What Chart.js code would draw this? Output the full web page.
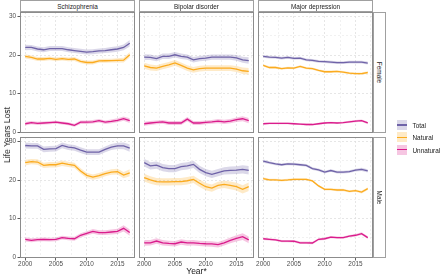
<!DOCTYPE html>
<html><head><meta charset="utf-8">
<script src="https://cdn.jsdelivr.net/npm/chart.js@4"></script>
<style>
body{margin:0;width:440px;height:275px;background:#fff;position:relative;overflow:hidden;font-family:"Liberation Sans",Arial,sans-serif;}
canvas{position:absolute;}
.strip{position:absolute;box-sizing:border-box;border:1px solid #a0a0a0;background:#fff;color:#1a1a1a;font-size:6.4px;display:flex;align-items:center;justify-content:center;white-space:nowrap;}
.rs span{transform:rotate(90deg);display:inline-block;}
.title{position:absolute;color:#1a1a1a;font-size:8.5px;white-space:nowrap;}
.key{position:absolute;width:10px;height:10px;}
.key i{position:absolute;left:0;right:0;top:4.3px;height:1.4px;}
.lab{position:absolute;font-size:6.4px;color:#1a1a1a;white-space:nowrap;}
</style></head><body>
<script>
// ---- data ----
const years = [2000,2001,2002,2003,2004,2005,2006,2007,2008,2009,2010,2011,2012,2013,2014,2015,2016,2017];
const xMajorTicks = [2000,2005,2010,2015];
const xMinorTicks = [2002.5,2007.5,2012.5,2017.5];
const yMajorTicks = [0,10,20,30];
const yMinorTicks = [5,15,25];
const disorders = ['Schizophrenia','Bipolar disorder','Major depression'];
const sexes = ['Female','Male'];
const causes = ['Total','Natural','Unnatural'];

// Schizophrenia, Female
const szFemTotal     = [22.0,22.0,21.6,21.4,21.7,21.7,21.7,21.4,21.2,21.0,20.8,20.9,21.1,21.2,21.4,21.6,22.0,23.1];
const szFemNatural   = [19.7,19.4,19.0,19.0,19.15,18.9,19.1,18.9,19.0,18.4,18.1,18.1,18.5,18.55,18.6,18.65,18.7,20.1];
const szFemUnnatural = [2.2,2.5,2.3,2.4,2.5,2.6,2.4,2.2,1.8,2.6,2.6,2.7,3.0,2.6,2.8,3.1,3.5,3.0];
const szFemTotalCI     = [0.7,0.65,0.65,0.65,0.65,0.65,0.65,0.65,0.65,0.65,0.65,0.65,0.65,0.65,0.7,0.7,0.75,0.85];
const szFemNaturalCI   = [0.55,0.5,0.5,0.5,0.5,0.5,0.5,0.5,0.5,0.5,0.5,0.5,0.5,0.5,0.5,0.55,0.6,0.7];
const szFemUnnaturalCI = [0.45,0.4,0.4,0.4,0.4,0.4,0.4,0.4,0.4,0.45,0.45,0.45,0.45,0.45,0.5,0.5,0.55,0.6];
// Schizophrenia, Male
const szMalTotal     = [29.0,28.9,28.9,28.0,28.1,28.2,29.0,28.6,28.35,27.8,27.3,27.3,27.3,28.0,28.6,28.9,28.9,28.3];
const szMalNatural   = [24.55,24.8,24.7,23.85,24.0,24.0,24.4,24.1,23.85,22.4,21.25,20.8,21.15,21.7,22.1,22.2,21.3,21.9];
const szMalUnnatural = [4.65,4.4,4.55,4.65,4.55,4.65,5.1,4.9,4.8,5.7,6.2,6.7,6.4,6.4,6.55,6.7,7.5,6.4];
const szMalTotalCI     = [0.8,0.75,0.75,0.75,0.75,0.75,0.75,0.75,0.75,0.75,0.75,0.75,0.75,0.75,0.8,0.8,0.85,0.95];
const szMalNaturalCI   = [0.75,0.7,0.7,0.7,0.7,0.7,0.7,0.7,0.7,0.7,0.7,0.7,0.7,0.7,0.7,0.75,0.8,0.9];
const szMalUnnaturalCI = [0.55,0.5,0.5,0.5,0.5,0.5,0.5,0.5,0.5,0.55,0.55,0.6,0.6,0.6,0.65,0.7,0.8,0.8];
// Bipolar disorder, Female
const bpFemTotal     = [19.5,19.45,19.1,19.7,19.7,20.1,19.7,19.5,18.8,19.1,19.25,19.5,19.5,19.5,19.5,19.3,18.8,18.6];
const bpFemNatural   = [17.25,16.8,16.65,17.1,17.5,18.0,17.35,16.65,16.2,16.5,16.65,16.65,16.65,16.65,16.65,16.4,15.95,15.8];
const bpFemUnnatural = [2.2,2.4,2.55,2.7,2.4,2.4,2.4,3.4,2.4,2.4,2.55,2.7,2.9,2.7,2.9,3.25,3.5,3.0];
const bpFemTotalCI     = [0.75,0.7,0.7,0.7,0.7,0.7,0.7,0.7,0.7,0.7,0.7,0.7,0.7,0.7,0.7,0.75,0.8,0.85];
const bpFemNaturalCI   = [0.8,0.75,0.75,0.75,0.75,0.75,0.75,0.75,0.75,0.75,0.75,0.75,0.75,0.75,0.75,0.8,0.85,0.9];
const bpFemUnnaturalCI = [0.55,0.5,0.5,0.5,0.5,0.5,0.5,0.55,0.5,0.5,0.5,0.5,0.55,0.55,0.55,0.6,0.65,0.7];
// Bipolar disorder, Male
const bpMalTotal     = [24.55,23.7,23.9,23.25,23.0,23.0,23.5,23.7,24.1,22.8,21.95,21.5,21.95,22.4,22.55,22.6,22.8,22.55];
const bpMalNatural   = [20.65,20.05,19.6,19.55,19.55,19.6,19.6,19.85,20.2,19.2,18.3,17.95,18.65,18.9,18.65,18.3,17.6,18.3];
const bpMalUnnatural = [3.75,3.75,4.2,3.75,3.6,3.5,3.95,3.7,3.75,3.6,3.5,3.45,3.25,3.75,4.4,4.9,5.35,4.5];
const bpMalTotalCI     = [1.0,0.95,0.95,0.95,0.95,0.95,0.95,0.95,0.95,0.95,0.95,0.95,0.95,0.95,1.0,1.0,1.05,1.1];
const bpMalNaturalCI   = [1.0,0.95,0.95,0.95,0.95,0.95,0.95,0.95,0.95,0.95,0.95,0.95,0.95,0.95,1.0,1.0,1.05,1.1];
const bpMalUnnaturalCI = [0.75,0.7,0.7,0.7,0.7,0.7,0.7,0.7,0.7,0.7,0.7,0.7,0.7,0.7,0.75,0.8,0.85,0.9];
// Major depression, Female
const mdFemTotal     = [19.7,19.5,19.4,19.25,19.4,19.15,19.25,18.8,18.65,18.4,18.3,18.2,18.05,18.05,18.2,18.2,18.2,17.95];
const mdFemNatural   = [17.35,16.8,16.8,16.5,16.7,16.65,17.1,16.65,16.5,16.05,15.7,15.7,15.8,15.6,15.35,15.2,15.2,15.5];
const mdFemUnnatural = [2.2,2.3,2.3,2.3,2.3,2.2,2.1,2.0,2.0,2.2,2.4,2.5,2.4,2.5,2.7,2.9,3.0,2.4];
const mdFemTotalCI     = [0.35,0.35,0.35,0.35,0.35,0.35,0.35,0.35,0.35,0.35,0.35,0.35,0.35,0.35,0.35,0.35,0.35,0.4];
const mdFemNaturalCI   = [0.3,0.3,0.3,0.3,0.3,0.3,0.3,0.3,0.3,0.3,0.3,0.3,0.3,0.3,0.3,0.3,0.3,0.35];
const mdFemUnnaturalCI = [0.25,0.25,0.25,0.25,0.25,0.25,0.25,0.25,0.25,0.25,0.25,0.25,0.25,0.25,0.3,0.3,0.3,0.3];
// Major depression, Male
const mdMalTotal     = [24.95,24.55,24.2,24.0,24.2,24.15,24.0,23.85,23.0,22.65,22.1,22.5,22.1,22.1,22.2,22.6,22.8,22.4];
const mdMalNatural   = [20.4,20.05,20.05,19.95,20.05,20.2,20.2,20.2,19.8,18.5,17.6,17.6,17.45,17.45,17.1,17.3,16.9,17.8];
const mdMalUnnatural = [4.8,4.65,4.5,4.2,4.2,4.15,3.75,3.75,3.7,4.65,4.8,5.2,5.1,5.1,5.5,5.7,6.1,5.1];
const mdMalTotalCI     = [0.4,0.35,0.35,0.35,0.35,0.35,0.35,0.35,0.35,0.35,0.35,0.35,0.35,0.35,0.35,0.35,0.4,0.4];
const mdMalNaturalCI   = [0.35,0.3,0.3,0.3,0.3,0.3,0.3,0.3,0.3,0.3,0.3,0.3,0.3,0.3,0.3,0.3,0.35,0.35];
const mdMalUnnaturalCI = [0.3,0.3,0.3,0.3,0.3,0.3,0.3,0.3,0.3,0.3,0.3,0.3,0.3,0.3,0.3,0.35,0.35,0.35];

// ---- styling ----
const lineColors   = {Total:'#6f63a8', Natural:'#fbab1f', Unnatural:'#da1c8c'};
const ribbonColors = {Total:'rgba(111,99,168,0.25)', Natural:'rgba(251,171,31,0.25)', Unnatural:'rgba(218,28,140,0.25)'};
const FONT = '"Liberation Sans", Arial, sans-serif';

const panelSeries = [
  [ // Female
    {Total:[szFemTotal,szFemTotalCI], Natural:[szFemNatural,szFemNaturalCI], Unnatural:[szFemUnnatural,szFemUnnaturalCI]},
    {Total:[bpFemTotal,bpFemTotalCI], Natural:[bpFemNatural,bpFemNaturalCI], Unnatural:[bpFemUnnatural,bpFemUnnaturalCI]},
    {Total:[mdFemTotal,mdFemTotalCI], Natural:[mdFemNatural,mdFemNaturalCI], Unnatural:[mdFemUnnatural,mdFemUnnaturalCI]}
  ],
  [ // Male
    {Total:[szMalTotal,szMalTotalCI], Natural:[szMalNatural,szMalNaturalCI], Unnatural:[szMalUnnatural,szMalUnnaturalCI]},
    {Total:[bpMalTotal,bpMalTotalCI], Natural:[bpMalNatural,bpMalNaturalCI], Unnatural:[bpMalUnnatural,bpMalUnnaturalCI]},
    {Total:[mdMalTotal,mdMalTotalCI], Natural:[mdMalNatural,mdMalNaturalCI], Unnatural:[mdMalUnnatural,mdMalUnnaturalCI]}
  ]
];

const PL = [20,139,258], PT = [12,137], PW = 115, PH = 121, M = 8, YAX = 20, XAX = 16;
const X_MIN = 1999.15, X_MAX = 2017.85, Y_MIN = -0.2, Y_MAX = 31.2;

const borderPlugin = {
  id:'panelBorder',
  afterDraw(chart){
    const a = chart.chartArea, c = chart.ctx;
    c.save(); c.strokeStyle = '#8c8c8c'; c.lineWidth = 1;
    c.strokeRect(a.left+0.5, a.top+0.5, a.right-a.left-1, a.bottom-a.top-1);
    c.restore();
  }
};

function el(tag, cls, css, text){
  const e = document.createElement(tag);
  if (cls) e.className = cls;
  Object.assign(e.style, css||{});
  if (text!==undefined) e.textContent = text;
  document.body.appendChild(e);
  return e;
}

function makePanel(r, c){
  const showY = c===0, showX = r===1;
  const padL = showY?0:M, padB = showX?0:M;
  const left = PL[c] - (showY?YAX:M);
  const top = PT[r] - M;
  const w = (showY?YAX:M) + PW + M;
  const h = M + PH + (showX?XAX:M);
  const cv = el('canvas', null, {left:left+'px', top:top+'px', width:w+'px', height:h+'px'});
  cv.width = w; cv.height = h;

  const datasets = [];
  const ser = panelSeries[r][c];
  causes.forEach(k => {
    const [mid, ci] = ser[k];
    const idx = datasets.length;
    datasets.push({data: years.map((x,i)=>({x, y: mid[i]+ci[i]})), borderWidth:0, pointRadius:0,
      fill: idx+1, backgroundColor: ribbonColors[k], order:2, tension:0});
    datasets.push({data: years.map((x,i)=>({x, y: mid[i]-ci[i]})), borderWidth:0, pointRadius:0,
      fill:false, order:2, tension:0});
    datasets.push({data: years.map((x,i)=>({x, y: mid[i]})), borderColor: lineColors[k], borderWidth:1.3,
      pointRadius:0, fill:false, order:1, tension:0});
  });

  const xTicks = xMajorTicks.concat(xMinorTicks).sort((a,b)=>a-b);
  const yTicks = yMajorTicks.concat(yMinorTicks).sort((a,b)=>a-b);
  const gridCol = (majors) => (ctx) => majors.includes(ctx.tick && ctx.tick.value) ? '#e0e0e0' : '#eeeeee';
  const tickCol = (majors) => (ctx) => majors.includes(ctx.tick && ctx.tick.value) ? '#333333' : 'rgba(0,0,0,0)';

  new Chart(cv, {
    type:'line',
    data:{datasets},
    plugins:[borderPlugin],
    options:{
      responsive:false, animation:false, devicePixelRatio:1,
      layout:{padding:{left:padL, right:M, top:M, bottom:padB}},
      plugins:{legend:{display:false}, tooltip:{enabled:false}},
      scales:{
        x:{type:'linear', min:X_MIN, max:X_MAX, position:'bottom',
          afterBuildTicks: ax => { ax.ticks = xTicks.map(v=>({value:v})); },
          afterFit: s => { s.height = showX ? XAX : 0; },
          grid:{color:gridCol(xMajorTicks), lineWidth:0.8, drawTicks:showX, tickLength:2.5, tickWidth:0.8, tickColor:tickCol(xMajorTicks)},
          border:{display:false, dash:[2,2]},
          ticks:{display:showX, autoSkip:false, maxRotation:0, minRotation:0, padding:0, color:'#4d4d4d',
            font:{size:6.4, family:FONT}, callback: v => xMajorTicks.includes(v) ? String(v) : ''}
        },
        y:{type:'linear', min:Y_MIN, max:Y_MAX, position:'left',
          afterBuildTicks: ax => { ax.ticks = yTicks.map(v=>({value:v})); },
          afterFit: s => { s.width = showY ? YAX : 0; },
          grid:{color:gridCol(yMajorTicks), lineWidth:0.8, drawTicks:showY, tickLength:2.5, tickWidth:0.8, tickColor:tickCol(yMajorTicks)},
          border:{display:false, dash:[2,2]},
          ticks:{display:showY, autoSkip:false, padding:1.5, color:'#4d4d4d',
            font:{size:6.4, family:FONT}, callback: v => yMajorTicks.includes(v) ? String(v) : ''}
        }
      }
    }
  });
}

for (let r=0;r<2;r++) for (let c=0;c<3;c++) makePanel(r,c);

// column strips
disorders.forEach((d,c) => {
  el('div','strip',{left:PL[c]+'px', top:'0px', width:PW+'px', height:(PT[0])+'px'}, d);
});
// row strips
sexes.forEach((s,r) => {
  const d = el('div','strip rs',{left:(PL[2]+PW)+'px', top:PT[r]+'px', width:'13px', height:PH+'px'});
  const sp = document.createElement('span'); sp.textContent = s; d.appendChild(sp);
});
// axis titles
el('div','title',{left:'7px', top:'135px', transform:'translate(-50%,-50%) rotate(-90deg)'}, 'Life Years Lost');
el('div','title',{left:'196.5px', top:'270.5px', transform:'translate(-50%,-50%)'}, 'Year*');
// legend
const legendY = [125, 137.3, 149.5];
causes.forEach((k,i) => {
  const key = el('div','key',{left:'397px', top:(legendY[i]-5)+'px', background:ribbonColors[k]});
  const ln = document.createElement('i'); ln.style.background = lineColors[k]; key.appendChild(ln);
  el('div','lab',{left:'412.5px', top:legendY[i]+'px', transform:'translateY(-50%)'}, k);
});
</script>
</body></html>
